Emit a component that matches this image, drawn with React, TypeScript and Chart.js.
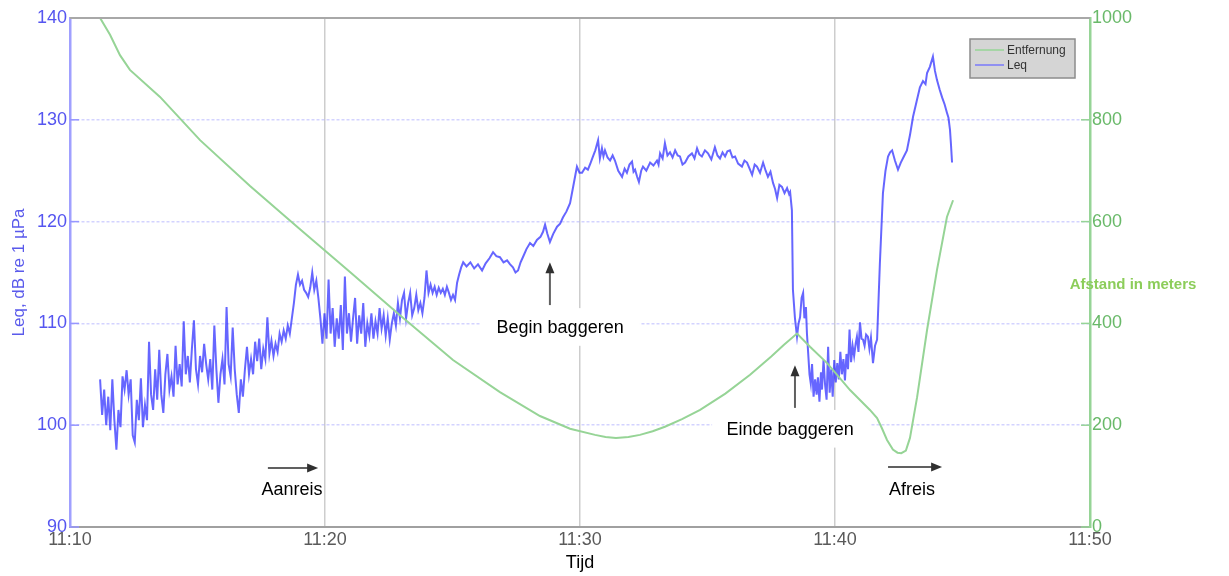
import { useEffect, useRef } from 'react';
import { Chart, registerables } from 'chart.js';

Chart.register(...registerables);

// minutes after 11:10
const xTickLabels = ['11:10', '11:20', '11:30', '11:40', '11:50'];

const leqMinutes = [
  1.18, 1.26, 1.34, 1.42, 1.5, 1.58, 1.66, 1.74, 1.82, 1.9, 1.98, 2.06, 2.14, 2.22, 2.3, 2.38, 2.46, 2.54, 2.62, 2.7,
  2.78, 2.86, 2.94, 3.02, 3.1, 3.18, 3.26, 3.34, 3.42, 3.5, 3.58, 3.66, 3.74, 3.82, 3.9, 3.98, 4.06, 4.14, 4.22, 4.3,
  4.38, 4.46, 4.54, 4.62, 4.7, 4.78, 4.86, 4.94, 5.02, 5.1, 5.18, 5.26, 5.34, 5.42, 5.5, 5.58, 5.66, 5.74, 5.82, 5.9,
  5.98, 6.06, 6.14, 6.22, 6.3, 6.38, 6.46, 6.54, 6.62, 6.7, 6.78, 6.86, 6.94, 7.02, 7.1, 7.18, 7.26, 7.34, 7.42, 7.5,
  7.58, 7.66, 7.74, 7.82, 7.9, 7.98, 8.06, 8.14, 8.22, 8.3, 8.38, 8.46, 8.54, 8.62, 8.7, 8.78, 8.86, 8.94, 9.02, 9.1,
  9.18, 9.26, 9.34, 9.42, 9.5, 9.58, 9.66, 9.74, 9.82, 9.9, 9.98, 10.06, 10.14, 10.22, 10.3, 10.38, 10.46, 10.54, 10.62, 10.7,
  10.78, 10.86, 10.94, 11.02, 11.1, 11.18, 11.26, 11.34, 11.42, 11.5, 11.58, 11.66, 11.74, 11.82, 11.9, 11.98, 12.06, 12.14, 12.22, 12.3,
  12.38, 12.46, 12.54, 12.62, 12.7, 12.78, 12.86, 12.94, 13.02, 13.1, 13.18, 13.26, 13.34, 13.42, 13.5, 13.58, 13.66, 13.74, 13.82, 13.9,
  13.98, 14.06, 14.14, 14.22, 14.3, 14.38, 14.46, 14.54, 14.62, 14.7, 14.78, 14.86, 14.94, 15.02, 15.1, 15.18, 15.26, 15.34, 15.42, 15.55,
  15.7, 15.85, 16.0, 16.16, 16.3, 16.45, 16.59, 16.72, 16.86, 17.0, 17.14, 17.26, 17.37, 17.47, 17.57, 17.67, 17.76, 17.9, 18.04, 18.17,
  18.31, 18.45, 18.55, 18.63, 18.72, 18.82, 18.95, 19.1, 19.22, 19.33, 19.47, 19.61, 19.73, 19.82, 19.88, 19.98, 20.08, 20.2, 20.31, 20.42,
  20.51, 20.6, 20.71, 20.78, 20.86, 20.92, 20.98, 21.08, 21.18, 21.28, 21.37, 21.5, 21.65, 21.75, 21.84, 21.94, 22.04, 22.1, 22.16, 22.24,
  22.31, 22.4, 22.47, 22.6, 22.75, 22.88, 23.02, 23.08, 23.14, 23.24, 23.33, 23.43, 23.53, 23.63, 23.73, 23.83, 23.92, 24.02, 24.12, 24.25,
  24.39, 24.49, 24.59, 24.68, 24.78, 24.9, 25.02, 25.15, 25.29, 25.39, 25.49, 25.59, 25.69, 25.78, 25.88, 25.98, 26.08, 26.2, 26.35, 26.45,
  26.55, 26.65, 26.75, 26.85, 26.94, 27.06, 27.18, 27.28, 27.37, 27.47, 27.57, 27.65, 27.73, 27.82, 27.92, 28.02, 28.12, 28.2, 28.24, 28.31,
  28.35, 28.43, 28.51, 28.57, 28.63, 28.69, 28.75, 28.8, 28.86, 28.9, 28.94, 29.0, 29.05, 29.1, 29.16, 29.22, 29.28, 29.33, 29.39, 29.45,
  29.49, 29.55, 29.61, 29.67, 29.73, 29.79, 29.85, 29.91, 29.97, 30.03, 30.09, 30.15, 30.21, 30.27, 30.33, 30.39, 30.45, 30.51, 30.57, 30.63,
  30.69, 30.75, 30.81, 30.86, 30.92, 30.98, 31.04, 31.1, 31.16, 31.22, 31.29, 31.35, 31.41, 31.49, 31.57, 31.65, 31.76, 31.88, 31.98, 32.08,
  32.16, 32.24, 32.35, 32.47, 32.58, 32.7, 32.82, 32.94, 33.06, 33.2, 33.33, 33.45, 33.55, 33.61, 33.72, 33.84, 33.92, 34.0, 34.1, 34.2,
  34.3, 34.39, 34.45, 34.51, 34.55, 34.59,
];

const leqDb = [
  104.5, 101.0, 103.5, 100.0, 102.8, 99.5, 104.5, 100.5, 97.6, 101.5, 99.8, 104.8, 103.5, 105.4, 103.0, 104.5, 99.0, 98.3, 102.5, 100.5,
  104.6, 99.8, 102.0, 100.5, 108.2, 103.0, 101.5, 105.5, 102.5, 107.4, 103.0, 101.2, 105.0, 107.0, 103.5, 104.8, 102.8, 107.8, 104.0, 106.0,
  103.8, 110.2, 105.0, 106.8, 104.2, 107.5, 110.3, 105.5, 104.0, 106.8, 105.2, 108.0, 106.0, 104.5, 106.5, 103.5, 109.8, 105.5, 102.2, 105.0,
  106.5, 104.0, 111.6, 106.0, 104.8, 109.6, 105.5, 103.0, 101.2, 104.5, 102.8, 105.5, 107.7, 105.0, 106.5, 105.0, 108.2, 106.3, 108.5, 105.5,
  107.5, 106.5, 110.6, 107.0, 108.3, 106.8, 108.0, 107.2, 109.0, 108.2, 109.3, 108.5, 109.8, 109.0, 110.5, 112.0, 113.8, 114.8, 113.8, 114.2,
  113.3, 113.0, 112.6, 113.5, 115.0, 113.3, 114.2, 112.5, 110.5, 108.0, 111.0, 108.5, 114.3, 109.0, 111.5, 107.7, 110.5, 108.5, 111.8, 107.4,
  114.6, 109.0, 111.0, 108.2, 110.5, 112.5, 108.0, 110.8, 109.0, 112.0, 107.7, 110.0, 108.8, 111.0, 108.5, 110.2, 109.0, 111.5, 109.5, 110.8,
  108.8, 110.5, 108.4, 110.0, 111.0, 109.8, 112.0, 110.5, 112.3, 113.0, 110.5, 112.0, 113.0, 110.8, 111.5, 112.8, 111.3, 112.0, 111.0, 112.5,
  115.2, 113.0, 113.8, 113.0, 113.6, 112.8, 113.5, 113.0, 113.4, 112.8, 113.6, 113.0, 112.3, 112.8, 112.3, 114.0, 114.8, 115.5, 116.0, 115.6,
  116.0, 115.4, 115.8, 115.2, 115.9, 116.4, 117.0, 116.6, 116.5, 116.0, 116.2, 115.8, 115.5, 115.0, 115.2, 116.0, 116.5, 117.3, 117.9, 117.6,
  118.2, 118.5, 119.0, 119.7, 118.8, 118.0, 118.8, 119.5, 119.8, 120.4, 121.0, 121.8, 123.4, 124.6, 125.4, 124.8, 124.8, 125.3, 125.1, 125.8,
  126.4, 127.0, 128.0, 126.2, 127.2, 126.4, 127.0, 126.3, 126.0, 126.5, 126.0, 125.0, 124.4, 125.2, 124.8, 125.6, 125.9, 124.9, 125.1, 124.4,
  123.9, 125.0, 125.4, 125.0, 125.8, 125.5, 126.0, 125.6, 126.7, 126.2, 127.7, 126.5, 126.8, 126.3, 127.0, 126.5, 126.4, 125.6, 125.8, 126.4,
  126.7, 126.2, 127.2, 126.6, 126.4, 127.0, 126.7, 126.1, 127.3, 126.5, 126.2, 126.8, 126.4, 126.9, 127.0, 126.3, 126.4, 125.7, 125.4, 126.0,
  125.8, 125.2, 124.6, 125.6, 125.4, 124.8, 125.8, 125.0, 124.4, 124.9, 123.8, 123.2, 122.3, 123.6, 123.4, 122.8, 123.3, 122.7, 122.9, 121.1,
  113.3, 110.5, 108.7, 110.0, 110.6, 112.5, 113.0, 110.5, 111.6, 109.0, 107.4, 105.0, 104.1, 106.0, 102.8, 104.5, 103.0, 104.7, 102.3, 105.2,
  103.5, 106.4, 104.0, 102.5, 107.7, 103.2, 105.5, 102.8, 106.4, 104.2, 106.1, 104.5, 107.2, 105.0, 106.5, 104.4, 107.0, 105.5, 109.4, 106.2,
  107.8, 106.8, 108.0, 108.7, 107.2, 110.1, 108.5, 108.4, 107.8, 108.9, 108.7, 107.5, 108.6, 106.1, 107.8, 108.4, 115.9, 122.8, 125.0, 126.4,
  126.8, 127.0, 126.0, 125.1, 125.8, 126.4, 127.0, 128.5, 130.3, 131.8, 133.2, 133.8, 133.5, 134.6, 135.2, 136.2, 134.8, 133.9, 133.0, 132.2,
  131.5, 130.7, 130.2, 129.0, 127.5, 125.8,
];

const distMinutes = [
  1.18, 1.57, 1.96, 2.35, 3.53, 5.1, 7.06, 9.02, 10.98, 12.94, 15.02, 16.86, 18.43, 19.61, 20.59, 21.0, 21.41, 21.9, 22.35, 22.85,
  23.33, 24.0, 24.71, 25.7, 26.67, 27.5, 28.0, 28.51, 29.02, 29.69, 30.59, 31.37, 31.65, 31.84, 32.04, 32.27, 32.45, 32.6, 32.78, 32.94,
  33.22, 33.61, 34.0, 34.39, 34.63,
];
const distMeters = [
  1000, 967, 927, 898, 845, 760, 670, 585, 501, 416, 328, 265, 218, 193, 181, 177, 175, 177, 181, 188,
  197, 212, 230, 262, 299, 335, 358, 380, 354, 322, 269, 230, 214, 194, 171, 152, 146, 145, 150, 175,
  255, 387, 505, 609, 642,
];

const seriesNames = ['Entfernung', 'Leq'];

// annotations in data coordinates (minutes, dB)
const noteTexts = [
  { text: 'Aanreis', t: 8.71, v: 93.6 },
  { text: 'Begin baggeren', t: 19.22, v: 109.5 },
  { text: 'Einde baggeren', t: 28.24, v: 99.5 },
  { text: 'Afreis', t: 33.02, v: 93.6 },
];
const noteArrows = [
  { t1: 7.76, v1: 95.8, t2: 9.73, v2: 95.8 },
  { t1: 18.82, v1: 111.8, t2: 18.82, v2: 116.0 },
  { t1: 28.43, v1: 101.7, t2: 28.43, v2: 105.9 },
  { t1: 32.08, v1: 95.9, t2: 34.2, v2: 95.9 },
];
const noteBoxes = [
  { t1: 16.08, t2: 22.35, v1: 111.5, v2: 107.8 },
  { t1: 25.18, t2: 31.37, v1: 101.5, v2: 97.8 },
];

const FONT = "'Liberation Sans', Arial, sans-serif";
const BLUE_LINE = 'rgba(30,30,255,0.68)';
const GREEN_LINE = 'rgb(150,212,150)';

function drawArrow(ctx: CanvasRenderingContext2D, x1: number, y1: number, x2: number, y2: number) {
  const ang = Math.atan2(y2 - y1, x2 - x1);
  const len = 11;
  const hw = 4.5;
  ctx.save();
  ctx.strokeStyle = '#606060';
  ctx.lineWidth = 2;
  ctx.beginPath();
  ctx.moveTo(x1, y1);
  ctx.lineTo(x2 - Math.cos(ang) * len * 0.8, y2 - Math.sin(ang) * len * 0.8);
  ctx.stroke();
  ctx.fillStyle = '#303030';
  ctx.beginPath();
  ctx.moveTo(x2, y2);
  ctx.lineTo(x2 - Math.cos(ang) * len - Math.sin(ang) * hw, y2 - Math.sin(ang) * len + Math.cos(ang) * hw);
  ctx.lineTo(x2 - Math.cos(ang) * len + Math.sin(ang) * hw, y2 - Math.sin(ang) * len - Math.cos(ang) * hw);
  ctx.closePath();
  ctx.fill();
  ctx.restore();
}

const decorPlugin = {
  id: 'decor',
  beforeDatasetsDraw(chart: any) {
    const { ctx, scales } = chart;
    const xs = scales.x;
    const ys = scales.y;
    ctx.save();
    ctx.fillStyle = '#ffffff';
    noteBoxes.forEach((b) => {
      const x1 = xs.getPixelForValue(b.t1);
      const x2 = xs.getPixelForValue(b.t2);
      const y1 = ys.getPixelForValue(b.v1);
      const y2 = ys.getPixelForValue(b.v2);
      ctx.fillRect(x1, y1, x2 - x1, y2 - y1);
    });
    // inner tick marks
    const area = chart.chartArea;
    ctx.lineWidth = 1.5;
    ctx.strokeStyle = 'rgb(150,150,255)';
    ys.ticks.forEach((tk: any) => {
      const y = ys.getPixelForValue(tk.value);
      ctx.beginPath();
      ctx.moveTo(area.left, y);
      ctx.lineTo(area.left + 9, y);
      ctx.stroke();
    });
    const y1s = scales.y1;
    ctx.strokeStyle = 'rgb(150,212,150)';
    y1s.ticks.forEach((tk: any) => {
      const y = y1s.getPixelForValue(tk.value);
      ctx.beginPath();
      ctx.moveTo(area.right - 9, y);
      ctx.lineTo(area.right, y);
      ctx.stroke();
    });
    ctx.restore();
  },
  afterDraw(chart: any) {
    const { ctx, scales, chartArea: area } = chart;
    const xs = scales.x;
    const ys = scales.y;
    ctx.save();
    // top border
    ctx.strokeStyle = '#a8a8a8';
    ctx.lineWidth = 2;
    ctx.beginPath();
    ctx.moveTo(area.left, area.top);
    ctx.lineTo(area.right, area.top);
    ctx.stroke();

    // arrows
    noteArrows.forEach((a) => {
      drawArrow(ctx, xs.getPixelForValue(a.t1), ys.getPixelForValue(a.v1), xs.getPixelForValue(a.t2), ys.getPixelForValue(a.v2));
    });
    // texts
    ctx.fillStyle = '#000000';
    ctx.font = `18px ${FONT}`;
    ctx.textAlign = 'center';
    ctx.textBaseline = 'middle';
    noteTexts.forEach((n) => {
      ctx.fillText(n.text, xs.getPixelForValue(n.t), ys.getPixelForValue(n.v));
    });

    // right axis title
    ctx.fillStyle = 'rgb(140,205,90)';
    ctx.font = `bold 15px ${FONT}`;
    ctx.fillText('Afstand in meters', area.right + 43, 285);

    // legend box
    const bx = area.right - 120;
    const by = area.top + 21;
    const bw = 105;
    const bh = 39;
    ctx.fillStyle = '#d5d5d5';
    ctx.fillRect(bx, by, bw, bh);
    ctx.strokeStyle = '#8c8c8c';
    ctx.lineWidth = 1.5;
    ctx.strokeRect(bx, by, bw, bh);
    const colors = [GREEN_LINE, 'rgb(120,120,250)'];
    ctx.font = `12px ${FONT}`;
    ctx.textAlign = 'left';
    seriesNames.forEach((name, i) => {
      const ly = by + 11 + i * 15;
      ctx.strokeStyle = colors[i];
      ctx.lineWidth = 1.5;
      ctx.beginPath();
      ctx.moveTo(bx + 5, ly);
      ctx.lineTo(bx + 34, ly);
      ctx.stroke();
      ctx.fillStyle = '#333333';
      ctx.fillText(name, bx + 37, ly + 1);
    });
    ctx.restore();
  },
};

export default function App() {
  const ref = useRef<HTMLCanvasElement | null>(null);

  useEffect(() => {
    document.body.style.margin = '0';
    const canvas = ref.current;
    if (!canvas) return;
    const chart = new Chart(canvas, {
      type: 'line',
      data: {
        datasets: [
          {
            label: seriesNames[0],
            data: distMinutes.map((t, i) => ({ x: t, y: distMeters[i] })),
            yAxisID: 'y1',
            borderColor: GREEN_LINE,
            borderWidth: 2,
            pointRadius: 0,
            tension: 0,
            fill: false,
          },
          {
            label: seriesNames[1],
            data: leqMinutes.map((t, i) => ({ x: t, y: leqDb[i] })),
            yAxisID: 'y',
            borderColor: BLUE_LINE,
            borderWidth: 2,
            pointRadius: 0,
            tension: 0,
            fill: false,
          },
        ],
      },
      options: {
        responsive: false,
        animation: false,
        devicePixelRatio: 1,
        layout: { padding: { top: 18, left: 0, right: 0, bottom: 0 } },
        plugins: {
          legend: { display: false },
          tooltip: { enabled: false },
        },
        scales: {
          x: {
            type: 'linear',
            min: 0,
            max: 40,
            afterFit: (s: any) => {
              s.height = 49;
            },
            ticks: {
              stepSize: 10,
              color: '#5a5a5a',
              font: { family: FONT, size: 18 },
              padding: 2,
              maxRotation: 0,
              callback: (v: any) => xTickLabels[Math.round(Number(v) / 10)] ?? '',
            },
            grid: {
              drawTicks: false,
              color: (c: any) => (c.tick && (c.tick.value === 0 || c.tick.value === 40) ? 'rgba(0,0,0,0)' : 'rgba(200,200,200,0.9)'),
              lineWidth: 1.5,
            },
            border: { color: '#a0a0a0', width: 2 },
            title: {
              display: true,
              text: 'Tijd',
              color: '#000000',
              font: { family: FONT, size: 18 },
              padding: { top: 0, bottom: 2 },
            },
          },
          y: {
            position: 'left',
            min: 90,
            max: 140,
            afterFit: (s: any) => {
              s.width = 70;
            },
            ticks: {
              stepSize: 10,
              color: 'rgb(85,85,240)',
              font: { family: FONT, size: 18 },
              padding: 3,
            },
            grid: {
              drawTicks: false,
              color: (c: any) => (c.tick && (c.tick.value === 90 || c.tick.value === 140) ? 'rgba(0,0,0,0)' : 'rgba(175,175,255,0.55)'),
              lineWidth: 1.5,
            },
            border: { color: 'rgb(160,160,255)', width: 2.5, dash: [3, 2] },
            title: {
              display: true,
              text: 'Leq, dB re 1 µPa',
              color: 'rgb(90,90,235)',
              font: { family: FONT, size: 17 },
              padding: { top: 9, bottom: 0 },
            },
          },
          y1: {
            position: 'right',
            min: 0,
            max: 1000,
            afterFit: (s: any) => {
              s.width = 139;
            },
            ticks: {
              stepSize: 200,
              color: 'rgb(105,185,105)',
              font: { family: FONT, size: 18 },
              padding: 2,
              callback: (v: any) => String(v),
            },
            grid: { display: false, drawTicks: false },
            border: { color: 'rgb(150,212,150)', width: 2.5 },
          },
        },
      },
      plugins: [decorPlugin],
    });
    return () => chart.destroy();
  }, []);

  return <canvas ref={ref} width={1229} height={576} style={{ display: 'block' }} />;
}
